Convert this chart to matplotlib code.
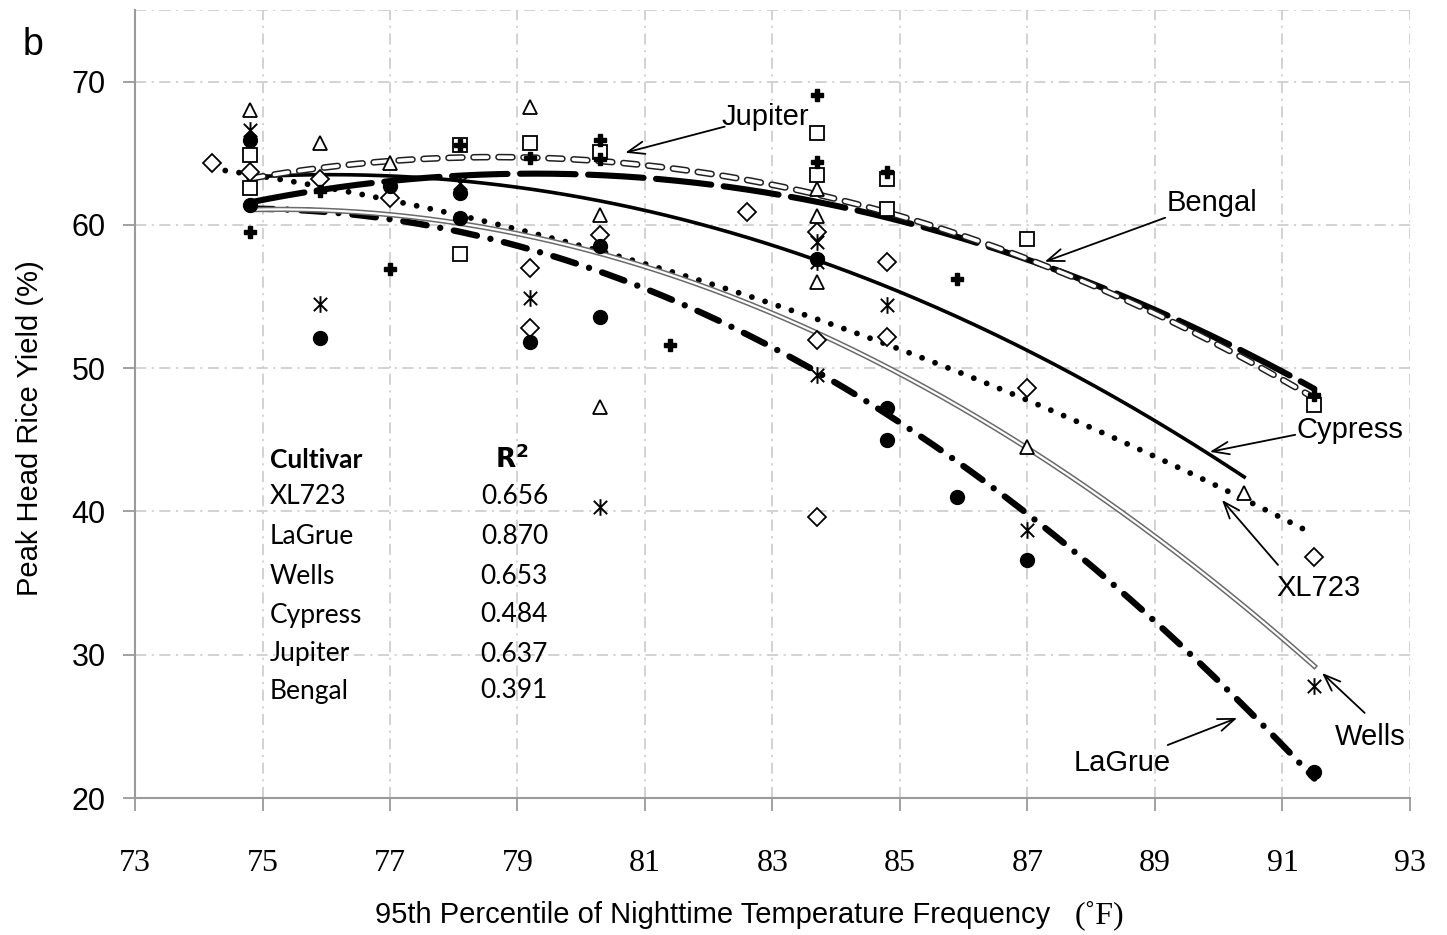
import numpy as np
import matplotlib.pyplot as plt
from matplotlib.path import Path

plt.rcParams['lines.scale_dashes'] = False

# --- scatter data (95th percentile nighttime temp vs peak head rice yield) ---
xl723_x = [74.2, 74.8, 75.9, 77.0, 79.2, 79.2, 80.3, 82.6, 83.7, 83.7, 83.7, 84.8, 84.8, 87.0, 91.5]
xl723_y = [64.3, 63.7, 63.2, 61.9, 57.0, 52.8, 59.3, 60.9, 59.5, 52.0, 39.6, 57.4, 52.2, 48.6, 36.8]

lagrue_x = [74.8, 74.8, 75.9, 77.0, 78.1, 78.1, 79.2, 80.3, 80.3, 83.7, 84.8, 84.8, 85.9, 87.0, 91.5]
lagrue_y = [65.9, 61.4, 52.1, 62.7, 62.2, 60.5, 51.8, 58.5, 53.6, 57.6, 47.2, 45.0, 41.0, 36.6, 21.8]

wells_x = [74.8, 75.9, 78.1, 79.2, 80.3, 83.7, 83.7, 83.7, 84.8, 87.0, 91.5]
wells_y = [66.6, 54.5, 62.9, 54.9, 40.3, 58.8, 57.4, 49.5, 54.4, 38.7, 27.8]

cypress_x = [74.8, 75.9, 77.0, 79.2, 80.3, 80.3, 83.7, 83.7, 83.7, 87.0, 90.4]
cypress_y = [68.0, 65.7, 64.3, 68.2, 60.7, 47.3, 62.5, 60.6, 56.0, 44.5, 41.3]

jupiter_x = [74.8, 74.8, 78.1, 78.1, 79.2, 80.3, 83.7, 83.7, 84.8, 84.8, 87.0, 91.5]
jupiter_y = [64.9, 62.6, 65.6, 58.0, 65.7, 65.1, 66.4, 63.5, 63.2, 61.1, 59.0, 47.4]

bengal_x = [74.8, 75.9, 77.0, 78.1, 79.2, 80.3, 80.3, 81.4, 83.7, 83.7, 84.8, 85.9, 91.5]
bengal_y = [59.5, 62.4, 56.9, 65.6, 64.7, 65.9, 64.6, 51.6, 69.1, 64.4, 63.7, 56.2, 48.1]

# points along each quadratic trend line
xl723_tx = [74.2, 77.0, 79.24, 81.6, 83.7, 85.4, 87.0, 88.9, 90.3, 91.5]
xl723_ty = [63.9, 61.8, 59.5, 56.4, 53.4, 50.4, 48.0, 44.0, 41.3, 38.2]
lagrue_tx = [74.8, 76.06, 77.63, 79.24, 80.87, 81.5, 83.9, 84.73, 85.47, 86.88, 88.29, 89.75, 91.16, 91.5]
lagrue_ty = [61.3, 60.7, 59.9, 58.1, 56.0, 54.6, 49.0, 47.2, 45.0, 40.3, 35.0, 28.9, 22.7, 21.8]
wells_tx = [74.8, 77.94, 79.24, 80.4, 81.86, 83.71, 84.8, 86.99, 88.45, 90.29, 91.5]
wells_ty = [61.0, 60.2, 59.2, 58.1, 55.7, 52.2, 50.4, 44.3, 39.9, 33.8, 29.3]
cypress_tx = [74.8, 77.93, 79.51, 80.56, 81.86, 83.71, 85.47, 86.88, 88.45, 90.4]
cypress_ty = [63.4, 63.3, 62.1, 61.1, 60.2, 57.6, 54.6, 51.5, 47.8, 42.3]
jupiter_tx = [74.8, 76.48, 78.25, 80.29, 81.08, 83.12, 85.31, 86.99, 88.29, 91.5]
jupiter_ty = [63.3, 64.2, 64.6, 64.6, 64.1, 62.7, 60.2, 57.6, 55.3, 47.9]
bengal_tx = [74.8, 76.48, 78.77, 80.5, 81.86, 83.75, 86.57, 88.3, 91.5]
bengal_ty = [61.7, 62.7, 63.5, 63.4, 62.8, 61.6, 58.5, 55.3, 48.5]

cultivars = ['XL723', 'LaGrue', 'Wells', 'Cypress', 'Jupiter', 'Bengal']
r_squared = ['0.656', '0.870', '0.653', '0.484', '0.637', '0.391']

x_ticks = [73, 75, 77, 79, 81, 83, 85, 87, 89, 91, 93]
y_ticks = [20, 30, 40, 50, 60, 70]

narrow = ['Liberation Sans Narrow', 'Liberation Sans', 'DejaVu Sans']
serif = ['Liberation Serif', 'DejaVu Serif']
table_font = ['Lato', 'DejaVu Sans']

# X with a vertical bar through it
star_marker = Path([(-1, -1), (1, 1), (-1, 1), (1, -1), (0, -1.25), (0, 1.25)],
                   [Path.MOVETO, Path.LINETO] * 3)


def trend(tx, ty):
    """Quadratic trend line through the given points."""
    coef = np.polyfit(tx, ty, 2)
    xs = np.linspace(min(tx), max(tx), 300)
    return xs, np.polyval(coef, xs)


fig = plt.figure(figsize=(14.47, 9.35), dpi=100)
ax = fig.add_axes([0.0933, 0.1465, 0.8811, 0.8428])
ax.set_xlim(73, 93)
ax.set_ylim(20, 75)

# grid
grid_ls = (0, (8, 4, 1.5, 4))
for gx in x_ticks[1:]:
    ax.axvline(gx, color='#cfcfcf', lw=1.3, ls=grid_ls, zorder=0)
for gy in y_ticks[1:] + [75]:
    ax.axhline(gy, color='#cfcfcf', lw=1.3, ls=grid_ls, zorder=0)

for side in ['top', 'right']:
    ax.spines[side].set_visible(False)
for side in ['left', 'bottom']:
    ax.spines[side].set_color('#9a9a9a')
    ax.spines[side].set_linewidth(1.5)

ax.set_xticks(x_ticks)
ax.set_yticks(y_ticks)
ax.tick_params(axis='both', color='#9a9a9a', width=1.3, length=9)
ax.tick_params(axis='x', pad=28)
ax.tick_params(axis='y', pad=12)
for lab in ax.get_xticklabels():
    lab.set_family(serif)
    lab.set_fontsize(23)
for lab in ax.get_yticklabels():
    lab.set_family(narrow)
    lab.set_fontsize(22)

# trend lines
xs, ys = trend(xl723_tx, xl723_ty)
ax.plot(xs, ys, color='black', lw=4.2, ls=(0, (0.01, 10)), dash_capstyle='round', zorder=3)

xs, ys = trend(lagrue_tx, lagrue_ty)
ax.plot(xs, ys, color='black', lw=4.6, ls=(0, (17, 10, 0.01, 10)),
        dash_capstyle='round', zorder=3)

xs, ys = trend(wells_tx, wells_ty)
ax.plot(xs, ys, color='#6a6a6a', lw=3.8, zorder=3)
ax.plot(xs, ys, color='white', lw=1.6, zorder=3)

xs, ys = trend(cypress_tx, cypress_ty)
ax.plot(xs, ys, color='black', lw=2.6, zorder=3)

xs, ys = trend(bengal_tx, bengal_ty)
ax.plot(xs, ys, color='black', lw=4.4, ls=(0, (40, 9)), dash_capstyle='round', zorder=3)

xs, ys = trend(jupiter_tx, jupiter_ty)
ax.plot(xs, ys, color='#202020', lw=4.8, ls=(0, (10, 8)), dash_capstyle='round', zorder=4)
ax.plot(xs, ys, color='white', lw=2.6, ls=(0, (10, 8)), dash_capstyle='round', zorder=4)

# scatter points
ax.plot(xl723_x, xl723_y, 'D', ms=9, mfc='white', mec='black', mew=1.3, ls='none', zorder=5)
ax.plot(cypress_x, cypress_y, '^', ms=10, mfc='white', mec='black', mew=1.3, ls='none', zorder=5)
ax.plot(jupiter_x, jupiter_y, 's', ms=9.5, mfc='white', mec='black', mew=1.3, ls='none', zorder=5)
ax.plot(lagrue_x, lagrue_y, 'o', ms=10, color='black', ls='none', zorder=5)
ax.plot(wells_x, wells_y, marker=star_marker, ms=12, color='black', mew=1.4, ls='none', zorder=5)
ax.plot(bengal_x, bengal_y, 'P', ms=9, color='black', ls='none', zorder=6)

# labels on the trend lines
arrow = dict(arrowstyle='->,head_length=1.2,head_width=0.45', color='black', lw=1.3,
             shrinkA=0, shrinkB=0)
notes = [
    ('Jupiter', (80.69, 65.04), (82.25, 66.86), (82.88, 67.5)),
    ('Bengal', (87.27, 57.43), (89.16, 60.5), (89.9, 61.55)),
    ('Cypress', (89.86, 44.16), (91.2, 45.35), (92.06, 45.7)),
    ('XL723', (90.05, 40.81), (90.93, 36.27), (91.56, 34.66)),
    ('Wells', (91.62, 28.73), (92.29, 25.94), (92.37, 24.26)),
    ('LaGrue', (90.29, 25.59), (89.2, 23.7), (88.48, 22.44)),
]
for name, head, tail, pos in notes:
    ax.annotate('', xy=head, xytext=tail, arrowprops=arrow, zorder=7)
    ax.text(pos[0], pos[1], name, family=narrow, fontsize=21,
            ha='center', va='center', zorder=7)

# R-squared table
tx0, tx1 = 270 / 1447, 548 / 1447
row_y = [497, 537, 576, 615, 654, 691]
fig.text(tx0, 1 - 460 / 935, 'Cultivar', family=table_font, fontsize=19,
         fontweight='bold', va='center')
fig.text(512 / 1447, 1 - 460 / 935, r'$\mathbf{R^2}$', fontsize=19, va='center', ha='center')
for name, r2, py in zip(cultivars, r_squared, row_y):
    fig.text(tx0, 1 - py / 935, name, family=table_font, fontsize=19, va='center')
    fig.text(tx1, 1 - py / 935, r2, family=table_font, fontsize=19, va='center', ha='right')

# axis titles
fig.text(30 / 1447, 1 - 428 / 935, 'Peak Head Rice Yield (%)', family=narrow,
         fontsize=21, rotation=90, ha='center', va='center')
fig.text(1050 / 1447, 1 - 915 / 935, '95th Percentile of Nighttime Temperature Frequency',
         family=narrow, fontsize=21, ha='right', va='center')
fig.text(1075 / 1447, 1 - 915 / 935, '(˚F)', family=serif, fontsize=23, ha='left', va='center')
fig.text(33 / 1447, 1 - 45 / 935, 'b', family=narrow, fontsize=27, ha='center', va='center')

fig.savefig('out.png', dpi=100)
